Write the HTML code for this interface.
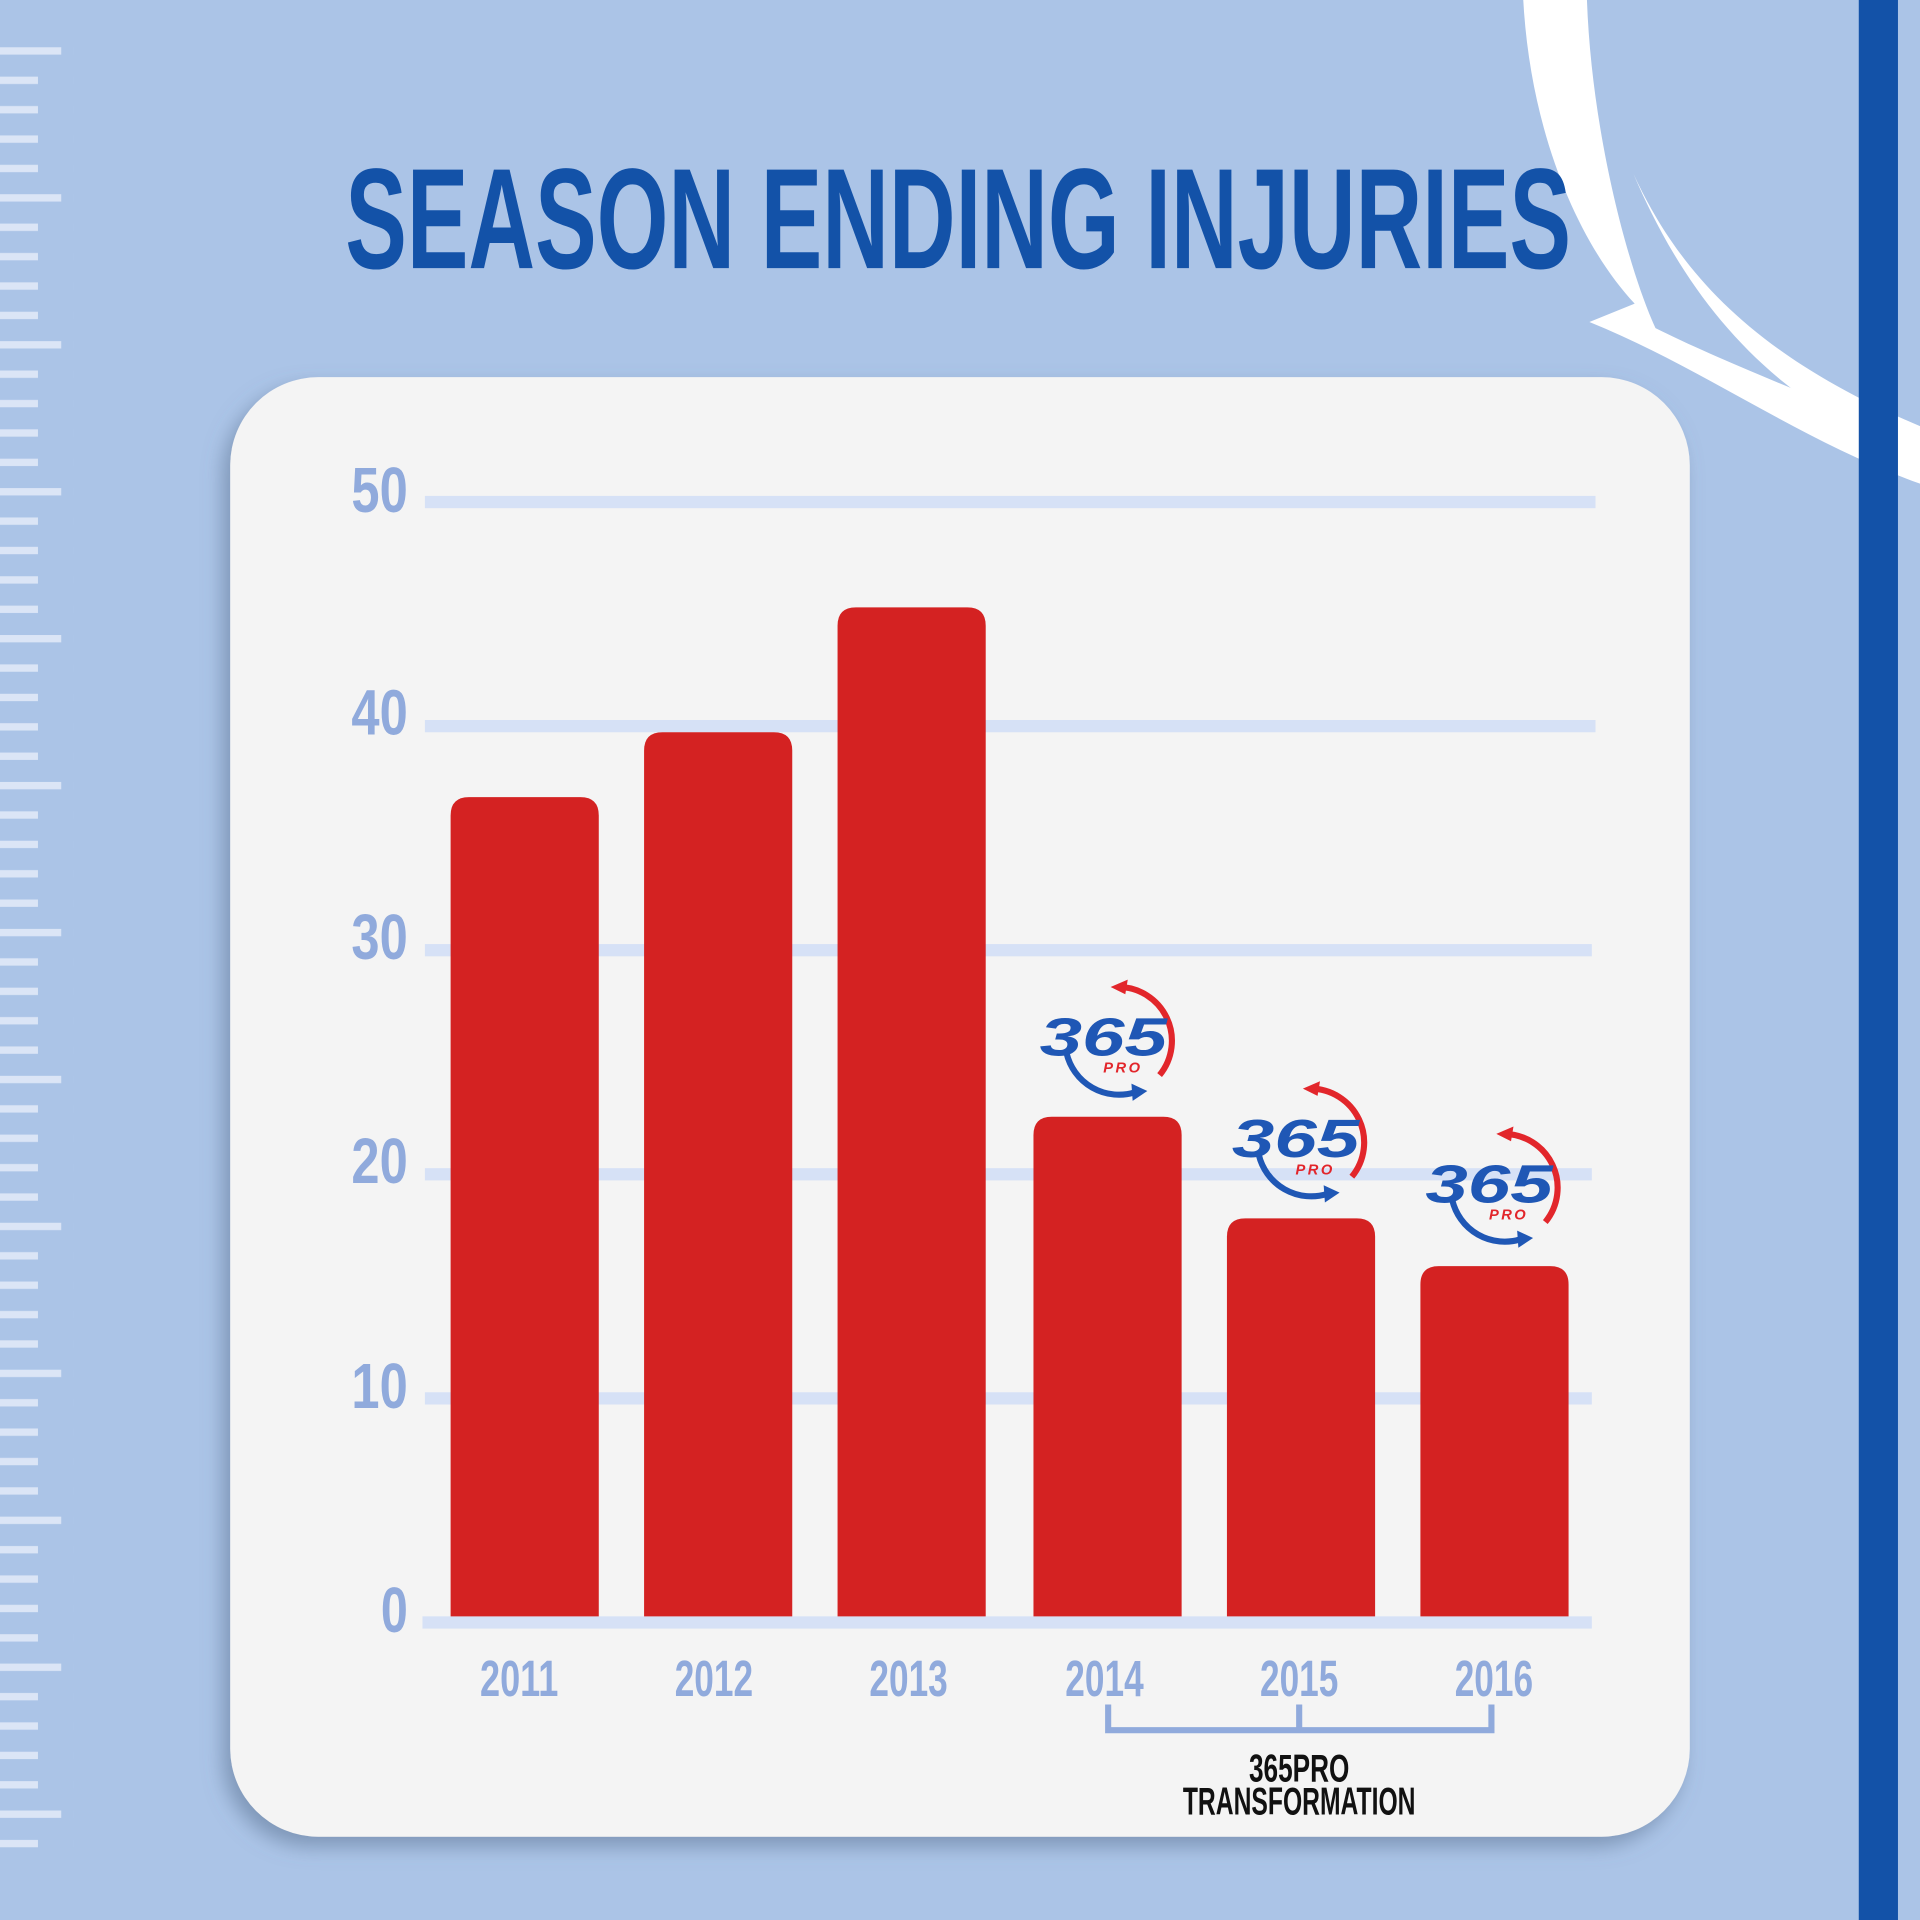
<!DOCTYPE html>
<html><head><meta charset="utf-8"><style>
html,body{margin:0;padding:0;background:#abc4e7;}
svg{display:block}
</style></head><body>
<svg width="1920" height="1920" viewBox="0 0 1568 1568" xmlns="http://www.w3.org/2000/svg">
<defs>
<pattern id="ticks" x="0" y="38.6" width="60" height="120" patternUnits="userSpaceOnUse">
<rect x="0" y="0" width="50" height="6" fill="#dbe5f6"/>
<rect x="0" y="24" width="31" height="6" fill="#dbe5f6"/>
<rect x="0" y="48" width="31" height="6" fill="#dbe5f6"/>
<rect x="0" y="72" width="31" height="6" fill="#dbe5f6"/>
<rect x="0" y="96" width="31" height="6" fill="#dbe5f6"/>
</pattern>
<filter id="sh" x="-10%" y="-10%" width="120%" height="120%"><feDropShadow dx="-6" dy="8" stdDeviation="8" flood-color="#5a6f90" flood-opacity="0.55"/></filter>
<g id="logo">
<path d="M 0 -44 A 44 44 0 0 1 34 28" fill="none" stroke="#e2262b" stroke-width="5"/>
<path d="M -6 -44 L 8 -50 L 6 -38 Z" fill="#e2262b"/>
<path d="M -42 10 A 44 44 0 0 0 14 42" fill="none" stroke="#1f57b5" stroke-width="5"/>
<path d="M 12 49 L 24 41 L 11 35 Z" fill="#1f57b5"/>
<text x="-12" y="12" font-family="Liberation Sans, sans-serif" font-weight="bold" font-style="italic" font-size="44" fill="#1f57b5" text-anchor="middle" textLength="104" lengthAdjust="spacingAndGlyphs">365</text>
<text x="4" y="26" font-family="Liberation Sans, sans-serif" font-weight="bold" font-style="italic" font-size="12" fill="#e2262b" text-anchor="middle" letter-spacing="2">PRO</text>
</g>
</defs>
<rect width="1568" height="1568" fill="#abc4e7"/>
<rect x="0" y="38" width="60" height="1480" fill="url(#ticks)"/>
<path d="M1244 0 C1250 110 1290 200 1335 248 L1298 263 C1390 300 1470 360 1568 395 L1568 360 C1470 320 1400 292 1352 268 C1330 220 1300 110 1296 0 Z" fill="#ffffff"/>
<path d="M1334 142 C1370 220 1430 290 1568 348 L1568 376 C1450 330 1380 250 1334 142 Z" fill="#ffffff"/>
<rect x="1518" y="0" width="32" height="1568" fill="#1352a8"/>
<text x="282" y="219" font-family="Liberation Sans, sans-serif" font-weight="bold" font-size="117" fill="#1352a8" textLength="1001" lengthAdjust="spacingAndGlyphs">SEASON ENDING INJURIES</text>
<rect x="188" y="308" width="1192" height="1192" rx="72" fill="#f4f4f4" filter="url(#sh)"/>
<g fill="#d6e1f6">
<rect x="347" y="405" width="956" height="10"/>
<rect x="347" y="588" width="956" height="10"/>
<rect x="347" y="771" width="953" height="10"/>
<rect x="347" y="954" width="953" height="10"/>
<rect x="347" y="1137" width="953" height="10"/>
<rect x="345" y="1320" width="955" height="10"/>
</g>
<g font-family="Liberation Sans, sans-serif" font-weight="bold" font-size="52" fill="#90aadc" text-anchor="end">
<text x="333" y="418" textLength="46" lengthAdjust="spacingAndGlyphs">50</text>
<text x="333" y="600" textLength="46" lengthAdjust="spacingAndGlyphs">40</text>
<text x="333" y="783" textLength="46" lengthAdjust="spacingAndGlyphs">30</text>
<text x="333" y="966" textLength="46" lengthAdjust="spacingAndGlyphs">20</text>
<text x="333" y="1150" textLength="46" lengthAdjust="spacingAndGlyphs">10</text>
<text x="333" y="1333" textLength="22" lengthAdjust="spacingAndGlyphs">0</text>
</g>
<g fill="#d42222">
<path d="M368 1320 V666 Q368 651 383 651 H474 Q489 651 489 666 V1320 Z"/>
<path d="M526 1320 V613 Q526 598 541 598 H632 Q647 598 647 613 V1320 Z"/>
<path d="M684 1320 V511 Q684 496 699 496 H790 Q805 496 805 511 V1320 Z"/>
<path d="M844 1320 V927 Q844 912 859 912 H950 Q965 912 965 927 V1320 Z"/>
<path d="M1002 1320 V1010 Q1002 995 1017 995 H1108 Q1123 995 1123 1010 V1320 Z"/>
<path d="M1160 1320 V1049 Q1160 1034 1175 1034 H1266 Q1281 1034 1281 1049 V1320 Z"/>
</g>
<use href="#logo" x="913" y="850"/>
<use href="#logo" x="1070" y="933"/>
<use href="#logo" x="1228" y="970"/>
<g font-family="Liberation Sans, sans-serif" font-weight="bold" font-size="42" fill="#90aadc" text-anchor="middle">
<text x="424" y="1385" textLength="64" lengthAdjust="spacingAndGlyphs">2011</text>
<text x="583" y="1385" textLength="64" lengthAdjust="spacingAndGlyphs">2012</text>
<text x="742" y="1385" textLength="64" lengthAdjust="spacingAndGlyphs">2013</text>
<text x="902" y="1385" textLength="64" lengthAdjust="spacingAndGlyphs">2014</text>
<text x="1061" y="1385" textLength="64" lengthAdjust="spacingAndGlyphs">2015</text>
<text x="1220" y="1385" textLength="64" lengthAdjust="spacingAndGlyphs">2016</text>
</g>
<path d="M905 1392 V1413 H1218 V1392 M1061 1392 V1413" fill="none" stroke="#90aadc" stroke-width="5"/>
<g font-family="Liberation Sans, sans-serif" font-weight="bold" font-size="32" fill="#111" text-anchor="middle">
<text x="1061" y="1455" textLength="82" lengthAdjust="spacingAndGlyphs">365PRO</text>
<text x="1061" y="1482" textLength="190" lengthAdjust="spacingAndGlyphs">TRANSFORMATION</text>
</g>
</svg>
</body></html>
